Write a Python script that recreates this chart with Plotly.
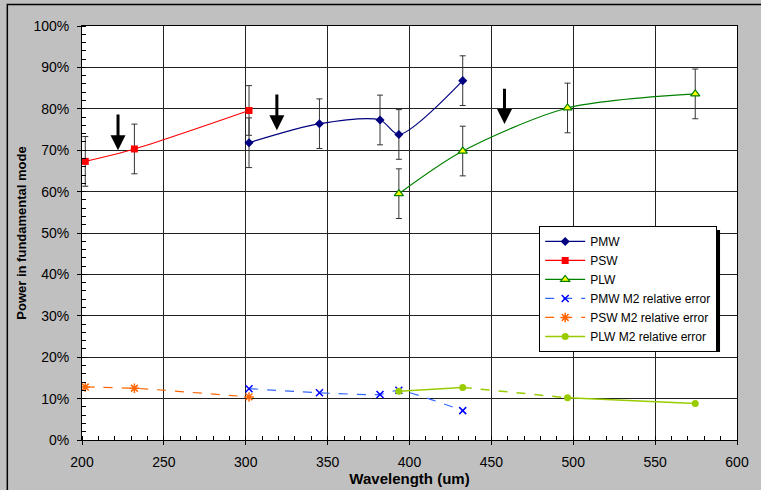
import plotly.graph_objects as go

# Wavelengths (um) for each band
psw_x = [202, 232, 302]
pmw_x = [302, 345, 382, 393.5, 432.5]
plw_x = [393.5, 432.5, 496.5, 574.5]

# Power in fundamental mode (%)
psw_y = [67.3, 70.3, 79.6]
pmw_y = [71.8, 76.4, 77.3, 73.8, 86.8]
plw_y = [59.5, 69.8, 80.2, 83.6]

# Error bar half-widths (%)
psw_err = [6, 6, 6]
pmw_err = [6, 6, 6, 6, 6]
plw_err = [6, 6, 6, 6]

# M2 relative error (%)
psw_m2 = [12.8, 12.5, 10.4]
pmw_m2 = [12.4, 11.4, 11.0, 12.0, 7.1]
plw_m2 = [11.8, 12.7, 10.2, 8.8]

# Arrows marking band edges: x, tail y, head y
arrow_x = [222, 319, 458]
arrow_tail = [79.0, 83.8, 85.2]
arrow_head = [70.0, 74.8, 76.3]

fig = go.Figure()

err_style = dict(type="data", thickness=1, width=3, color="#333333")

fig.add_trace(go.Scatter(
    x=pmw_x, y=pmw_y, name="PMW", mode="lines+markers",
    line=dict(color="#000080", width=1.2, shape="spline", smoothing=0.8),
    marker=dict(symbol="diamond", size=7, color="#000080"),
    error_y=dict(array=pmw_err, **err_style)))
fig.add_trace(go.Scatter(
    x=psw_x, y=psw_y, name="PSW", mode="lines+markers",
    line=dict(color="#ff0000", width=1.2, shape="spline", smoothing=0.8),
    marker=dict(symbol="square", size=7, color="#ff0000"),
    error_y=dict(array=psw_err, **err_style)))
fig.add_trace(go.Scatter(
    x=plw_x, y=plw_y, name="PLW", mode="lines+markers",
    line=dict(color="#008000", width=1.2, shape="spline", smoothing=0.8),
    marker=dict(symbol="triangle-up", size=8, color="#ffff00",
                line=dict(color="#008000", width=1.2)),
    error_y=dict(array=plw_err, **err_style)))

fig.add_trace(go.Scatter(
    x=pmw_x, y=pmw_m2, name="PMW M2 relative error", mode="lines+markers",
    line=dict(color="#3366ff", width=1.2, dash="dash", shape="spline", smoothing=0.6),
    marker=dict(symbol="x-thin", size=7, color="#0000ff",
                line=dict(color="#0000ff", width=1.5))))
fig.add_trace(go.Scatter(
    x=psw_x, y=psw_m2, name="PSW M2 relative error", mode="lines+markers",
    line=dict(color="#ff6600", width=1.2, dash="dash", shape="spline", smoothing=0.6),
    marker=dict(symbol="asterisk-open", size=8,
                line=dict(color="#ff6600", width=1.5))))

# PLW M2 error: solid, dashed middle segment, solid tail
plw_m2_line = "#99cc00"
fig.add_trace(go.Scatter(
    x=plw_x[:2], y=plw_m2[:2], name="PLW M2 relative error", mode="lines+markers",
    line=dict(color=plw_m2_line, width=1.5, shape="spline", smoothing=0.8),
    marker=dict(symbol="circle", size=7, color=plw_m2_line)))
fig.add_trace(go.Scatter(
    x=plw_x[1:3], y=plw_m2[1:3], mode="lines", showlegend=False,
    line=dict(color=plw_m2_line, width=1.5, dash="dash")))
fig.add_trace(go.Scatter(
    x=plw_x[2:], y=plw_m2[2:], mode="lines+markers", showlegend=False,
    line=dict(color=plw_m2_line, width=1.5),
    marker=dict(symbol="circle", size=7, color=plw_m2_line)))

for ax_, tail, head in zip(arrow_x, arrow_tail, arrow_head):
    fig.add_annotation(
        x=ax_, y=head, ax=ax_, ay=tail, xref="x", yref="y", axref="x", ayref="y",
        showarrow=True, arrowhead=2, arrowsize=1, arrowwidth=3, arrowcolor="#000000",
        text="")

# Outer chart frame (only top/left edges fall inside the page) and legend drop shadow
fig.add_shape(type="rect", xref="paper", yref="paper",
              x0=-0.114, x1=1.5, y0=-0.5, y1=1.052,
              line=dict(color="#000000", width=1.5), layer="below")
fig.add_shape(type="rect", xref="paper", yref="paper",
              x0=0.7038, x1=0.9741, y0=0.2126, y1=0.5072,
              fillcolor="#000000", line=dict(width=0), layer="above")

axis_common = dict(
    showline=True, linecolor="#000000", linewidth=1, mirror=True,
    showgrid=True, gridcolor="#222222", gridwidth=1,
    ticks="outside", ticklen=4, tickcolor="#000000",
    tickfont=dict(family="Arial", size=14, color="#000000"),
    zeroline=False, automargin=False,
)

fig.update_layout(
    width=761, height=490,
    margin=dict(l=82, r=24, t=26, b=50),
    paper_bgcolor="#c0c0c0", plot_bgcolor="#ffffff",
    font=dict(family="Arial", color="#000000"),
    showlegend=True,
    legend=dict(
        x=0.698, y=0.517, xanchor="left", yanchor="top",
        bgcolor="#ffffff", bordercolor="#000000", borderwidth=1,
        font=dict(family="Arial", size=12, color="#000000"),
        itemwidth=40, tracegroupgap=0,
    ),
    xaxis=dict(
        range=[200, 600], dtick=50, ticklabelstandoff=5,
        title=dict(text="<b>Wavelength (um)</b>", font=dict(size=15), standoff=4),
        minor=dict(dtick=10, ticks="inside", ticklen=4, tickcolor="#000000", showgrid=False),
        **axis_common),
    yaxis=dict(
        range=[0, 100], dtick=10, ticksuffix="%", ticklabelstandoff=5,
        title=dict(text="<b>Power in fundamental mode</b>", font=dict(size=13), standoff=3),
        minor=dict(dtick=2, ticks="inside", ticklen=4, tickcolor="#000000", showgrid=False),
        **axis_common),
)

fig.write_html("out.html")
